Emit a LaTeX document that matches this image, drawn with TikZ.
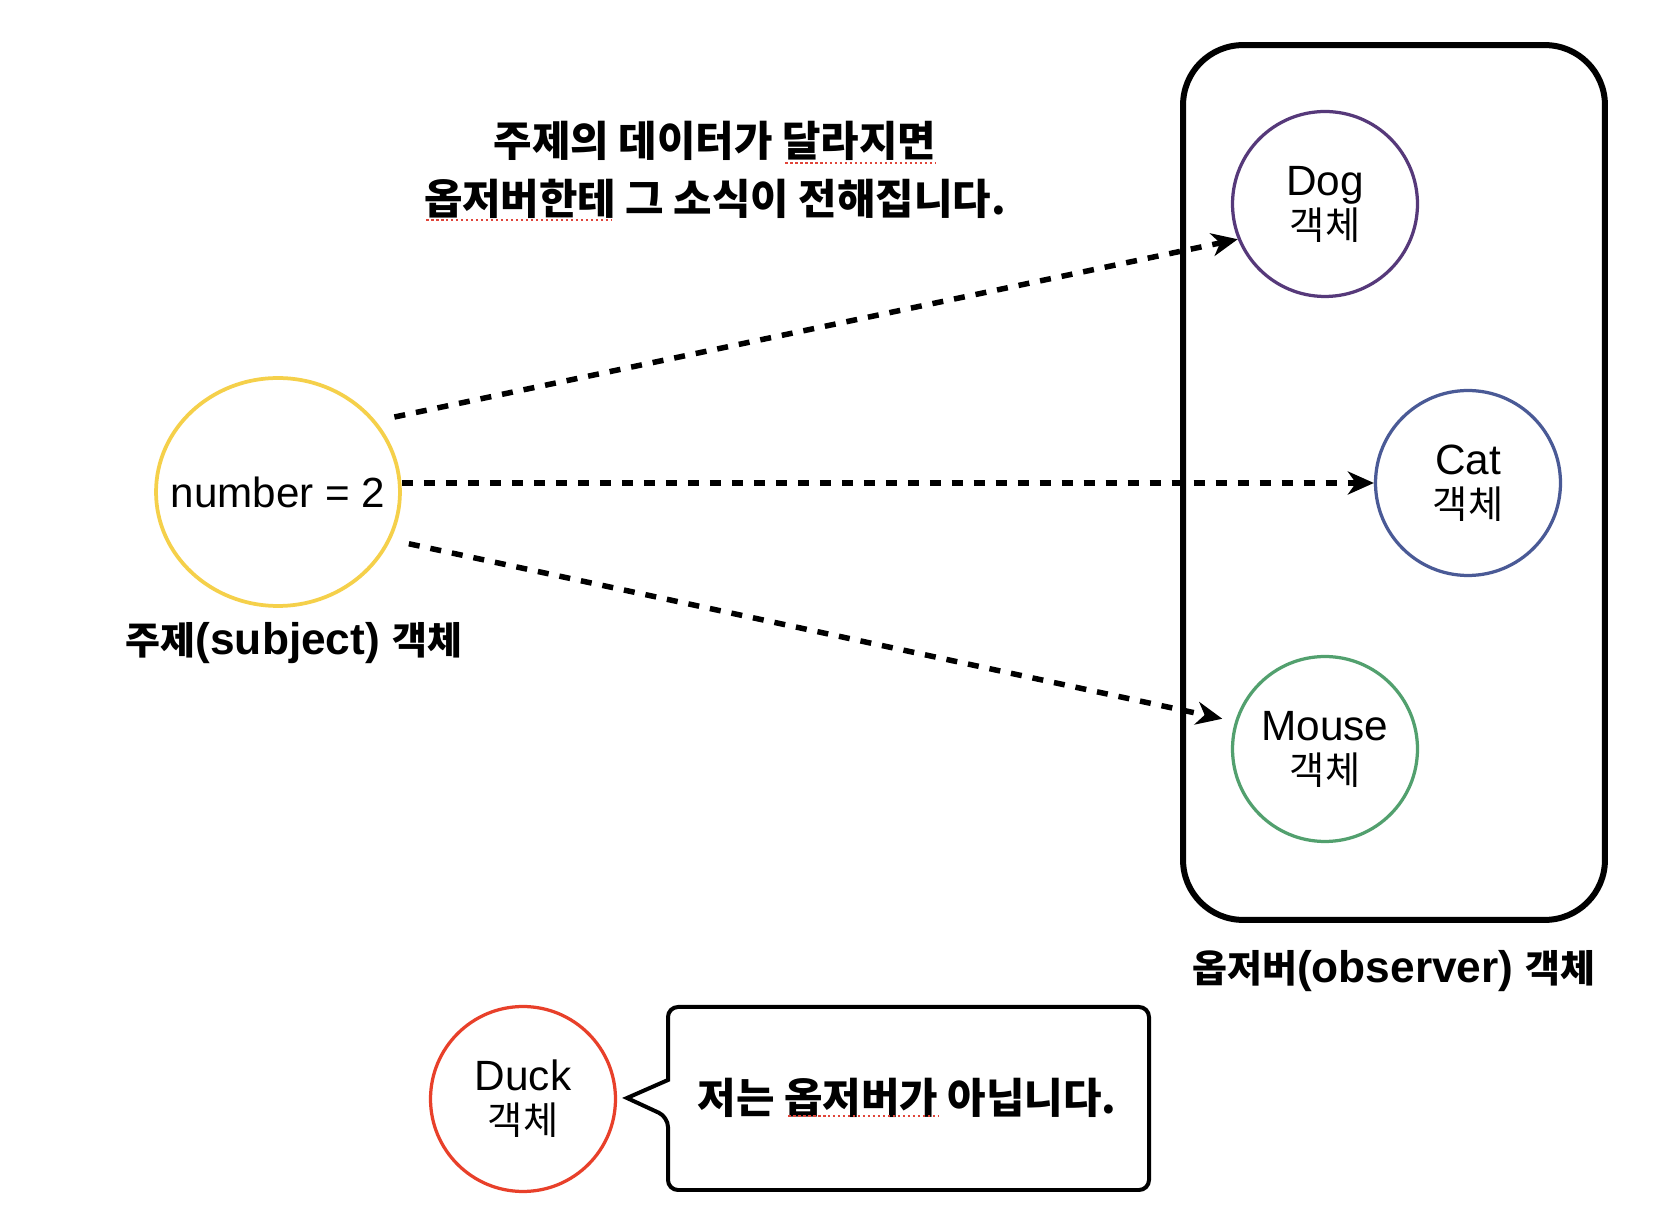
\documentclass[tikz,border=0pt]{standalone}
\usepackage{fontspec}
\setmainfont{Liberation Sans}
\newfontfamily\kr{Noto Sans CJK KR}
\usetikzlibrary{arrows.meta,shapes.geometric}
\definecolor{cyellow}{HTML}{F5D04A}
\definecolor{cpurple}{HTML}{56397A}
\definecolor{cblue}{HTML}{4A5A96}
\definecolor{cgreen}{HTML}{52A06E}
\definecolor{cred}{HTML}{E8402A}
\definecolor{spellred}{HTML}{E0453A}
\newcommand\ko[1]{{\kr\fontsize{21.8}{25}\selectfont #1}}
\newcommand\kl[1]{{\kr\fontsize{21.6}{27}\selectfont #1}}
\begin{document}
\begin{tikzpicture}[x=0.02cm,y=-0.02cm,
  obj/.style={circle,draw,line width=0.065cm,minimum size=3.7cm,inner sep=0pt,align=center,
              font=\fontsize{24.1}{25}\selectfont},
  flow/.style={line width=0.11cm,dash pattern=on 0.22cm off 0.22cm,
               -{Stealth[length=0.52cm,width=0.46cm,inset=0.16cm]}},
  lbl/.style={font=\bfseries\fontsize{25.2}{27}\selectfont,inner sep=0pt},
  spell/.style={draw=spellred,line width=0.05cm,dash pattern=on 0.05cm off 0.05cm},
]
\fill[white] (0,0) rectangle (1658,1212);
\useasboundingbox (0,0) rectangle (1658,1212);

% title
\node[align=center,inner sep=0pt,font=\bfseries\kr\fontsize{23.8}{33}\selectfont] (title) at (715,170)
  {주제의 데이터가 달라지면\\옵저버한테 그 소식이 전해집니다.};
\draw[spell] (785,163) -- (936,163);
\draw[spell] (426,220) -- (611,220);

% subject
\node[ellipse,draw=cyellow,line width=0.075cm,minimum width=4.88cm,minimum height=4.56cm,
      inner sep=0pt,font=\fontsize{24}{27}\selectfont] (subj) at (278,492)
      {\makebox[0pt]{\raisebox{-0.06cm}{number = 2}}};
\node[lbl] (subjlbl) at (294,643) {\kl{주제}(subject) \kl{객체}};

% observer container
\node[draw,line width=0.12cm,rounded corners=1.2cm,minimum width=8.44cm,minimum height=17.5cm,
      inner sep=0pt] (obs) at (1394,482.5) {};
\node[lbl] (obslbl) at (1394,971) {\kl{옵저버}(observer) \kl{객체}};

\node[obj,draw=cpurple] (dog) at (1325,204) {Dog\\\ko{객체}};
\node[obj,draw=cblue] (cat) at (1468,483) {Cat\\\ko{객체}};
\node[obj,draw=cgreen] (mouse) at (1325,749) {Mouse\\\ko{객체}};

% connectors
\draw[flow,shorten <=0.38cm] (subj.36.7) -- (dog.202);
\draw[flow] (subj.east |- cat.west) -- (cat.west);
\draw[flow,shorten <=0.37cm,shorten >=0.26cm] (subj.-23) -- (mouse.163.6);

% duck and speech bubble
\node[obj,draw=cred] (duck) at (523,1099) {Duck\\\ko{객체}};
\draw[line width=0.08cm,line join=miter]
  (668,1117) -- (627,1098) -- (668,1080)
  [rounded corners=0.2cm] -- (668,1007) -- (1149,1007) -- (1149,1190) -- (668,1190) -- cycle;
\node[inner sep=0pt,font=\bfseries\kr\fontsize{23.8}{26}\selectfont] (note) at (907,1098)
  {저는 옵저버가 아닙니다.};
\draw[spell] (788,1116) -- (938,1116);
\end{tikzpicture}
\end{document}
